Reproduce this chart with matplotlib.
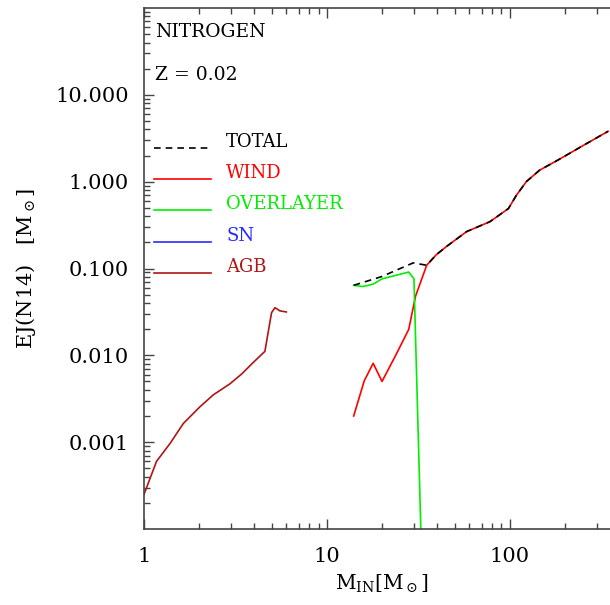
import numpy as np
import matplotlib
matplotlib.use("Agg")
import matplotlib.pyplot as plt
from matplotlib.ticker import LogLocator, NullFormatter, FixedLocator, FixedFormatter

plt.rcParams['font.family'] = ['DejaVu Serif']
plt.rcParams['mathtext.fontset'] = 'dejavuserif'

# AGB yields (low/intermediate masses)
agb_mass = [1.0, 1.17, 1.39, 1.64, 2.02, 2.39, 2.95, 3.42, 3.96, 4.58, 4.98, 5.2, 5.53, 6.0]
agb_ej = [0.00025, 0.0006, 0.00097, 0.00164, 0.00255, 0.0035, 0.0047, 0.0061, 0.0083,
          0.0111, 0.031, 0.0354, 0.0325, 0.0316]

# wind contribution (massive stars)
wind_mass = [14.0, 16.0, 17.9, 20.0, 23.7, 28.0, 30.5, 35.1, 39.6, 45.0, 58.0, 77.8,
             98.2, 108.7, 123.0, 145.0, 188.0, 251.0, 344.0]
wind_ej = [0.0020, 0.0051, 0.0081, 0.0050, 0.0099, 0.0199, 0.048, 0.109, 0.144, 0.179,
           0.266, 0.346, 0.49, 0.70, 1.0, 1.35, 1.83, 2.6, 3.8]

# overlayer contribution
over_mass = [14.0, 15.7, 17.9, 20.0, 28.0, 29.9, 32.6]
over_ej = [0.064, 0.062, 0.066, 0.076, 0.091, 0.076, 0.0001]

# total
total_mass = [14.0, 20.0, 29.6, 35.1, 39.6, 45.0, 58.0, 77.8, 98.2, 108.7, 123.0, 145.0,
              188.0, 251.0, 344.0]
total_ej = [0.064, 0.081, 0.116, 0.109, 0.144, 0.179, 0.266, 0.346, 0.49, 0.70, 1.0,
            1.35, 1.83, 2.6, 3.8]

legend_names = ['TOTAL', 'WIND', 'OVERLAYER', 'SN', 'AGB']
legend_colors = ['black', '#ff0000', '#00ee00', '#2a2aff', '#b01515']
legend_styles = ['--', '-', '-', '-', '-']

fig = plt.figure(figsize=(6.1, 6.05), dpi=100)
ax = fig.add_axes([144 / 610, 76 / 605, 476 / 610, 521 / 605])

ax.plot(agb_mass, agb_ej, color='#b01515', lw=1.2)
ax.plot(wind_mass, wind_ej, color='#ff0000', lw=1.2)
ax.plot(over_mass, over_ej, color='#00ee00', lw=1.2)
ax.plot(total_mass, total_ej, color='black', lw=1.2, ls=(0, (4, 3)))

ax.set_xscale('log')
ax.set_yscale('log')
ax.set_xlim(1, 400)
ax.set_ylim(1e-4, 100)

ax.xaxis.set_major_locator(FixedLocator([1, 10, 100]))
ax.xaxis.set_major_formatter(FixedFormatter(['1', '10', '100']))
ax.xaxis.set_minor_locator(LogLocator(base=10, subs=np.arange(2, 10)))
ax.xaxis.set_minor_formatter(NullFormatter())
ax.yaxis.set_major_locator(FixedLocator([0.001, 0.01, 0.1, 1, 10]))
ax.yaxis.set_major_formatter(FixedFormatter(['0.001', '0.010', '0.100', '1.000', '10.000']))
ax.yaxis.set_minor_locator(LogLocator(base=10, subs=np.arange(2, 10)))
ax.yaxis.set_minor_formatter(NullFormatter())

spine_col = '#444444'
for s in ax.spines.values():
    s.set_color(spine_col)
    s.set_linewidth(1.2)
ax.tick_params(which='both', direction='in', top=True, right=True, color=spine_col, width=1.0)
ax.tick_params(which='major', length=7)
ax.tick_params(which='minor', length=4)
ax.tick_params(axis='x', which='major', pad=13, labelsize=15)
ax.tick_params(axis='y', which='major', pad=11, labelsize=15)

ax.set_xlabel(r'M$_{\rm IN}$[M$_\odot$]', fontsize=14.5, labelpad=5)
ax.set_ylabel(r'EJ(N14)   [M$_\odot$]', fontsize=15, labelpad=12)

ax.text(0.023, 0.954, 'NITROGEN', transform=ax.transAxes, fontsize=13.5, va='center')
ax.text(0.023, 0.872, 'Z = 0.02', transform=ax.transAxes, fontsize=13.5, va='center')

text_y = [142, 173, 204, 236, 267]
for name, col, ls, ty in zip(legend_names, legend_colors, legend_styles, text_y):
    yl = (529 - (ty + 6)) / 521
    yt = (529 - ty) / 521
    ax.plot([10 / 476, 67 / 476], [yl, yl], transform=ax.transAxes, color=col, lw=1.2,
            ls=(0, (4, 3)) if ls == '--' else '-')
    ax.text(82 / 476, yt, name, transform=ax.transAxes, color=col, fontsize=13, va='center')

fig.savefig('out.png', dpi=100)
